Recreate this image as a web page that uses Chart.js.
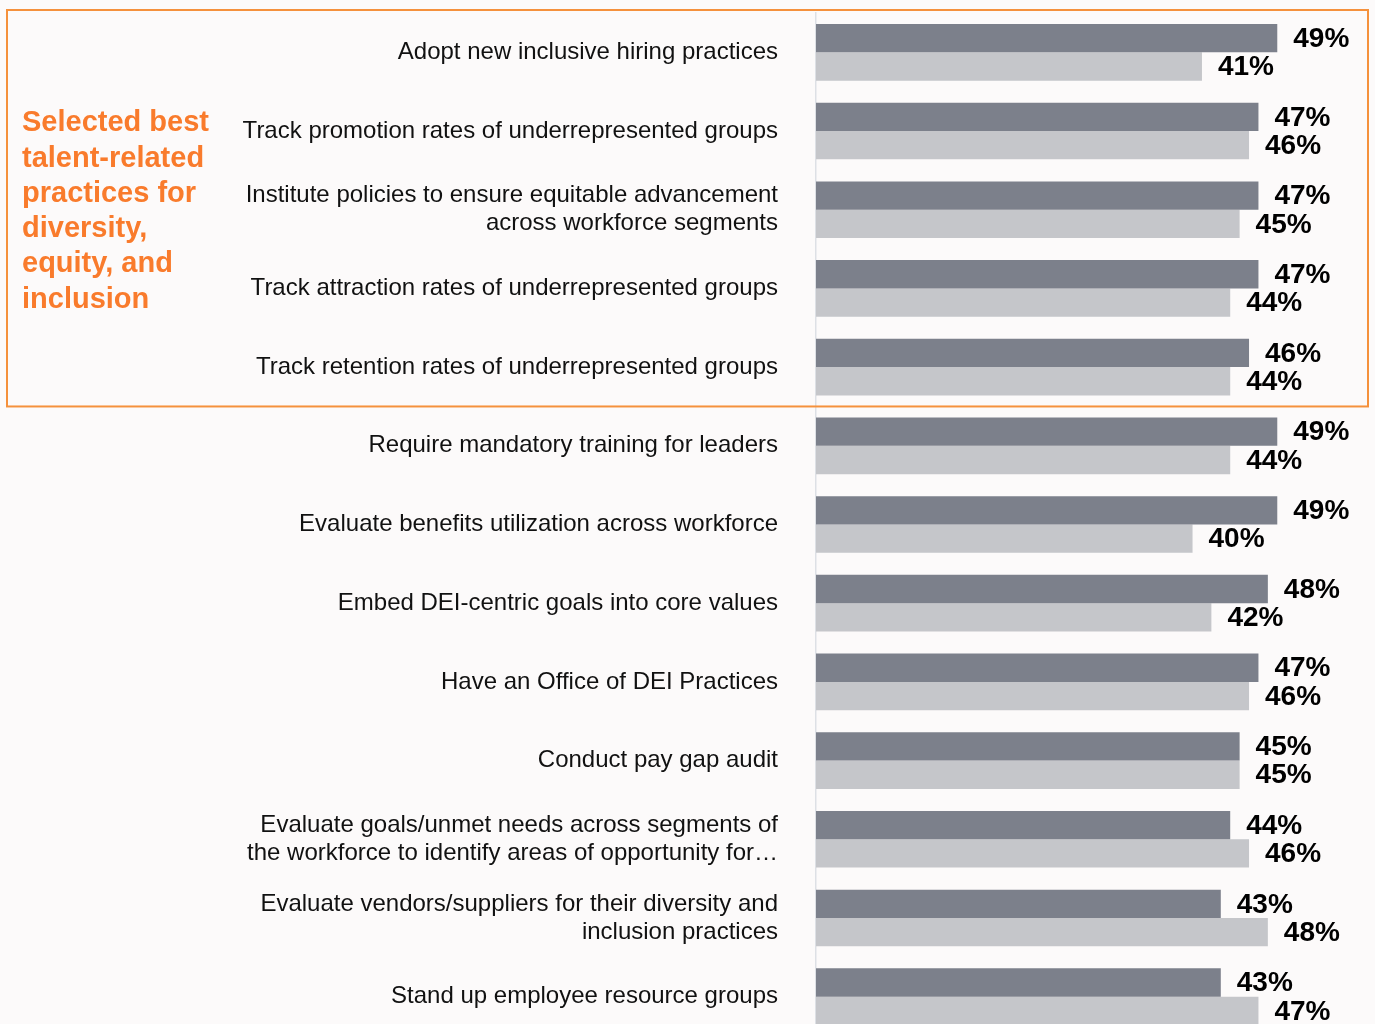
<!DOCTYPE html>
<html>
<head>
<meta charset="utf-8">
<title>Best talent-related practices for DEI</title>
<script src="https://cdn.jsdelivr.net/npm/chart.js@4/dist/chart.umd.min.js"></script>
<style>
	html, body { margin:0; padding:0; overflow:hidden; background:#fcfafa; }
	#wrap { width:1375px; height:1040px; position:relative; }
</style>
</head>
<body>
<div id="wrap"><canvas id="chart"></canvas></div>
<script>
let categories = [
	'Adopt new inclusive hiring practices',
	'Track promotion rates of underrepresented groups',
	['Institute policies to ensure equitable advancement', 'across workforce segments'],
	'Track attraction rates of underrepresented groups',
	'Track retention rates of underrepresented groups',
	'Require mandatory training for leaders',
	'Evaluate benefits utilization across workforce',
	'Embed DEI-centric goals into core values',
	'Have an Office of DEI Practices',
	'Conduct pay gap audit',
	['Evaluate goals/unmet needs across segments of', 'the workforce to identify areas of opportunity for\u2026'],
	['Evaluate vendors/suppliers for their diversity and', 'inclusion practices'],
	'Stand up employee resource groups'
];
let seriesA = [49, 47, 47, 47, 46, 49, 49, 48, 47, 45, 44, 43, 43];
let seriesB = [41, 46, 45, 44, 44, 44, 40, 42, 46, 45, 46, 48, 47];
let highlightTitle = ['Selected best', 'talent-related', 'practices for', 'diversity,', 'equity, and', 'inclusion'];
let highlightCount = 5;

const FONT = "'Liberation Sans', Arial, sans-serif";
const ORANGE_TEXT = '#f97b2c';
const ORANGE_LINE = '#f5913c';

// value labels at the end of each bar
let valueLabels = {
	id:'valueLabels',
	afterDatasetsDraw(chart){
		let ctx = chart.ctx;
		ctx.save();
		ctx.font = 'bold 28px ' + FONT;
		ctx.fillStyle = '#000';
		ctx.textAlign = 'left';
		ctx.textBaseline = 'middle';
		chart.data.datasets.forEach(function(ds, i){
			chart.getDatasetMeta(i).data.forEach(function(bar, j){
				ctx.fillText(ds.data[j] + '%', bar.x + 16, bar.y + 1);
			});
		});
		ctx.restore();
	}
};

// orange box around the highlighted group + its caption
let highlightBox = {
	id:'highlightBox',
	afterDraw(chart){
		let ctx = chart.ctx;
		let y = chart.scales.y;
		let pitch = y.getPixelForValue(1) - y.getPixelForValue(0);
		let top = y.getPixelForValue(0) - pitch / 2 - 3;
		let bottom = y.getPixelForValue(highlightCount - 1) + pitch / 2;
		ctx.save();
		ctx.strokeStyle = ORANGE_LINE;
		ctx.lineWidth = 2;
		ctx.strokeRect(7, top, 1361, bottom - top);
		ctx.font = 'bold 29px ' + FONT;
		ctx.fillStyle = ORANGE_TEXT;
		ctx.textAlign = 'left';
		ctx.textBaseline = 'alphabetic';
		let mid = (top + bottom) / 2;
		highlightTitle.forEach(function(line, i){
			ctx.fillText(line, 22, mid - 77 + i * 35.3);
		});
		ctx.restore();
	}
};

let ctx = document.getElementById('chart');

let dataChart = {
	labels: categories,
	datasets: [{
		label:'Series A',
		data: seriesA,
		backgroundColor:'#7c808b',
		borderWidth:0
	},{
		label:'Series B',
		data: seriesB,
		backgroundColor:'#c5c6ca',
		borderWidth:0
	}]
};

let myBarChart = new Chart(ctx, {
	type:'bar',
	data: dataChart,
	plugins:[valueLabels, highlightBox],
	options:{
		indexAxis:'y',
		responsive:true,
		maintainAspectRatio:false,
		animation:false,
		layout:{ padding:{ top:13, bottom:4, left:0, right:13 } },
		datasets:{ bar:{ categoryPercentage:0.72, barPercentage:1 } },
		plugins:{
			legend:{ display:false },
			tooltip:{ enabled:false }
		},
		scales:{
			x:{
				display:false,
				min:0,
				max:58
			},
			y:{
				afterFit(scale){
					scale.width = 816;
					scale.paddingTop = 0;
					scale.paddingBottom = 0;
				},
				grid:{ display:false, drawTicks:false },
				border:{ display:true, color:'#dde0e5', width:1.5 },
				ticks:{
					autoSkip:false,
					padding:38,
					color:'#111',
					font:{ family:FONT, size:24, lineHeight:1.17 }
				}
			}
		}
	}
});
</script>
</body>
</html>
